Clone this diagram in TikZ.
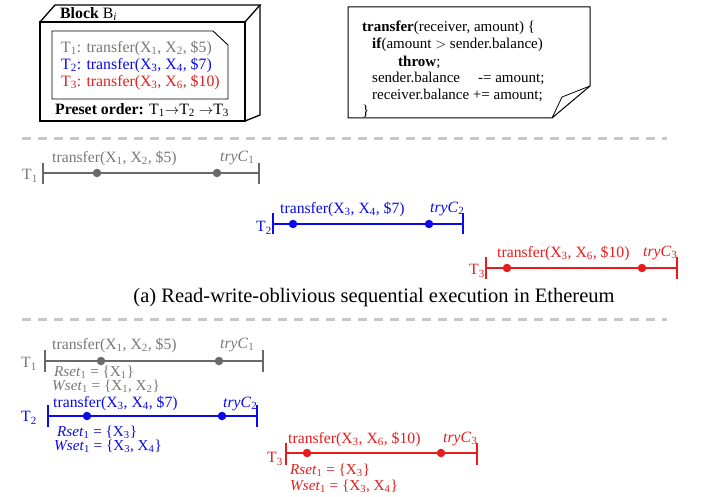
\documentclass[tikz,border=0pt]{standalone}
\usepackage{fontspec}
\setmainfont{Liberation Serif}
\definecolor{lgray}{RGB}{105,105,105}
\definecolor{tgray}{RGB}{120,120,120}
\definecolor{dgray}{RGB}{200,200,200}
\definecolor{myblue}{RGB}{10,10,235}
\definecolor{myred}{RGB}{232,28,28}
\newcommand{\sub}[1]{\textsubscript{#1}}
\begin{document}
\begin{tikzpicture}[x=1pt,y=-1pt,
  lbl/.style={inner sep=0pt,anchor=west,font=\fontsize{15.7}{17}\selectfont},
  sets/.style={inner sep=0pt,anchor=west,font=\fontsize{15.2}{14}\selectfont},
  blkt/.style={inner sep=0pt,anchor=west,font=\fontsize{15.8}{17}\selectfont},
  tl/.style={line width=2pt},
  dotn/.style={circle,inner sep=0pt,minimum size=8.5pt},
  sep/.style={draw=dgray,line width=3pt,dash pattern=on 9pt off 7pt},
  codet/.style={inner sep=0pt,anchor=west,font=\fontsize{15}{16}\selectfont}]
\useasboundingbox (0,0) rectangle (701,497);

% ---------- Block ----------
\draw[line width=1.3pt,line join=miter] (40,22) rectangle (245,121);
\draw[line width=1.3pt,line join=miter] (40,22) -- (55,5) -- (260,5) -- (245,22);
\draw[line width=1.3pt,line join=miter] (260,5) -- (260,115) -- (245,121);
\draw[line width=0.9pt] (52,31) -- (213,31) -- (228,45) -- (228,99) -- (52,99) -- cycle;
\node[blkt] (blk) at (60,14) {\textbf{Block} B\textsubscript{\textit{i}}};
\node[blkt,text=tgray] (bt1) at (61,48) {T\sub{1}: transfer(X\sub{1}, X\sub{2}, \$5)};
\node[blkt,text=myblue] (bt2) at (61,65) {T\sub{2}: transfer(X\sub{3}, X\sub{4}, \$7)};
\node[blkt,text=myred] (bt3) at (61,82) {T\sub{3}: transfer(X\sub{3}, X\sub{6}, \$10)};
\node[blkt] (pre) at (55,110) {\textbf{Preset order:} T\sub{1}$\rightarrow$T\sub{2} $\rightarrow$T\sub{3}};

% ---------- Code box ----------
\draw[line width=1pt,line join=miter] (348,7) -- (590,7) -- (590,86) -- (552,118) -- (348,118) -- cycle;
\draw[line width=0.8pt] (552,118) -- (562,97) -- (590,86);
\node[codet] (c1) at (362,28) {\textbf{transfer}(receiver, amount) \{};
\node[codet] (c2) at (372,45) {\textbf{if}(amount $>$ sender.balance)};
\node[codet] (c3) at (398,62) {\textbf{throw};};
\node[codet] (c4) at (372,78) {sender.balance\hspace{1.2em}-= amount;};
\node[codet] (c5) at (372,95) {receiver.balance += amount;};
\node[codet] (c6) at (362,111) {\}};

% ---------- separators ----------
\coordinate (s1a) at (22,139); \coordinate (s1b) at (667,139);
\coordinate (s2a) at (22,319); \coordinate (s2b) at (667,319);
\draw[sep] (s1a) -- (s1b);
\draw[sep] (s2a) -- (s2b);

% ---------- (a) ----------
% T1
\coordinate (a1s) at (43,173); \coordinate (a1e) at (259,173);
\draw[tl,draw=lgray] (a1s) -- (a1e);
\draw[tl,draw=lgray] ([yshift=10pt]a1s) -- ([yshift=-11pt]a1s);
\draw[tl,draw=lgray] ([yshift=10pt]a1e) -- ([yshift=-11pt]a1e);
\node[dotn,fill=lgray] (a1d1) at (97,173) {};
\node[dotn,fill=lgray] (a1d2) at (217,173) {};
\node[lbl,anchor=east,text=tgray] (a1T) at (38,176) {T\sub{1}};
\node[lbl,text=tgray] (a1x) at (52,158) {transfer(X\sub{1}, X\sub{2}, \$5)};
\node[lbl,text=tgray] (a1c) at (220,158) {\textit{tryC}\sub{1}};
% T2
\coordinate (a2s) at (273,224); \coordinate (a2e) at (463,224);
\draw[tl,draw=myblue] (a2s) -- (a2e);
\draw[tl,draw=myblue] ([yshift=11pt]a2s) -- ([yshift=-10pt]a2s);
\draw[tl,draw=myblue] ([yshift=11pt]a2e) -- ([yshift=-10pt]a2e);
\node[dotn,fill=myblue] (a2d1) at (293,224) {};
\node[dotn,fill=myblue] (a2d2) at (429,224) {};
\node[lbl,anchor=east,text=myblue] (a2T) at (272,228) {T\sub{2}};
\node[lbl,text=myblue] (a2x) at (280,209) {transfer(X\sub{3}, X\sub{4}, \$7)};
\node[lbl,text=myblue] (a2c) at (430,209) {\textit{tryC}\sub{2}};
% T3
\coordinate (a3s) at (486,268); \coordinate (a3e) at (677,268);
\draw[tl,draw=myred] (a3s) -- (a3e);
\draw[tl,draw=myred] ([yshift=11pt]a3s) -- ([yshift=-11pt]a3s);
\draw[tl,draw=myred] ([yshift=11pt]a3e) -- ([yshift=-11pt]a3e);
\node[dotn,fill=myred] (a3d1) at (507,268) {};
\node[dotn,fill=myred] (a3d2) at (642,268) {};
\node[lbl,anchor=east,text=myred] (a3T) at (485,271) {T\sub{3}};
\node[lbl,text=myred] (a3x) at (497,253) {transfer(X\sub{3}, X\sub{6}, \$10)};
\node[lbl,text=myred] (a3c) at (643,253) {\textit{tryC}\sub{3}};

\node[inner sep=0pt,font=\fontsize{20.5}{22}\selectfont] (cap) at (374,298) {(a) Read-write-oblivious sequential execution in Ethereum};

% ---------- (b) ----------
% T1
\coordinate (b1s) at (45,361); \coordinate (b1e) at (263,361);
\draw[tl,draw=lgray] (b1s) -- (b1e);
\draw[tl,draw=lgray] ([yshift=11pt]b1s) -- ([yshift=-11pt]b1s);
\draw[tl,draw=lgray] ([yshift=11pt]b1e) -- ([yshift=-11pt]b1e);
\node[dotn,fill=lgray] (b1d1) at (101,361) {};
\node[dotn,fill=lgray] (b1d2) at (219,361) {};
\node[lbl,anchor=east,text=tgray] (b1T) at (37,364) {T\sub{1}};
\node[lbl,text=tgray] (b1x) at (52,345) {transfer(X\sub{1}, X\sub{2}, \$5)};
\node[lbl,text=tgray] (b1c) at (220,345) {\textit{tryC}\sub{1}};
\node[sets,text=tgray] (b1r) at (54,372.5) {\textit{Rset}\sub{1} = \{X\sub{1}\}};
\node[sets,text=tgray] (b1w) at (52,386.5) {\textit{Wset}\sub{1} = \{X\sub{1}, X\sub{2}\}};
% T2
\coordinate (b2s) at (48,416); \coordinate (b2e) at (257,416);
\draw[tl,draw=myblue] (b2s) -- (b2e);
\draw[tl,draw=myblue] ([yshift=11pt]b2s) -- ([yshift=-11pt]b2s);
\draw[tl,draw=myblue] ([yshift=11pt]b2e) -- ([yshift=-11pt]b2e);
\node[dotn,fill=myblue] (b2d1) at (87,416) {};
\node[dotn,fill=myblue] (b2d2) at (222,416) {};
\node[lbl,anchor=east,text=myblue] (b2T) at (37,418) {T\sub{2}};
\node[lbl,text=myblue] (b2x) at (53,403.5) {transfer(X\sub{3}, X\sub{4}, \$7)};
\node[lbl,text=myblue] (b2c) at (223,403.5) {\textit{tryC}\sub{2}};
\node[sets,text=myblue] (b2r) at (57,432) {\textit{Rset}\sub{1} = \{X\sub{3}\}};
\node[sets,text=myblue] (b2w) at (54,446) {\textit{Wset}\sub{1} = \{X\sub{3}, X\sub{4}\}};
% T3
\coordinate (b3s) at (286,453); \coordinate (b3e) at (477,453);
\draw[tl,draw=myred] (b3s) -- (b3e);
\draw[tl,draw=myred] ([yshift=10pt]b3s) -- ([yshift=-12pt]b3s);
\draw[tl,draw=myred] ([yshift=10pt]b3e) -- ([yshift=-12pt]b3e);
\node[dotn,fill=myred] (b3d1) at (307,453) {};
\node[dotn,fill=myred] (b3d2) at (441,453) {};
\node[lbl,anchor=east,text=myred] (b3T) at (283,459) {T\sub{3}};
\node[lbl,text=myred] (b3x) at (288,439) {transfer(X\sub{3}, X\sub{6}, \$10)};
\node[lbl,text=myred] (b3c) at (443,439) {\textit{tryC}\sub{3}};
\node[sets,text=myred] (b3r) at (290,470.5) {\textit{Rset}\sub{1} = \{X\sub{3}\}};
\node[sets,text=myred] (b3w) at (290,486.5) {\textit{Wset}\sub{1} = \{X\sub{3}, X\sub{4}\}};
\end{tikzpicture}
\end{document}
